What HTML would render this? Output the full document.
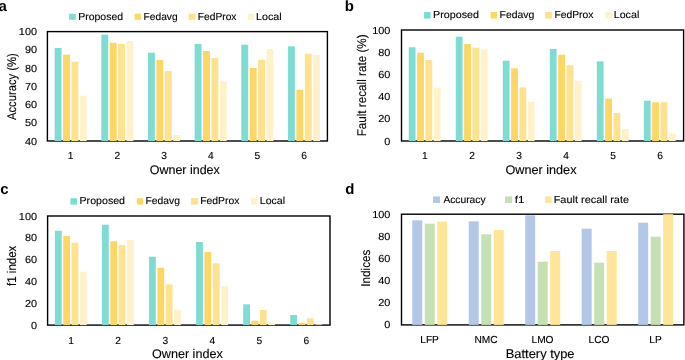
<!DOCTYPE html>
<html><head><meta charset="utf-8"><style>
html,body{margin:0;padding:0;background:#fff;}
svg{display:block;will-change:transform;}
text{font-family:"Liberation Sans",sans-serif;font-kerning:none;fill:#000;stroke:#000;stroke-width:0.12px;text-rendering:geometricPrecision;}
</style></head><body>
<svg width="685" height="360" viewBox="0 0 685 360">
<rect width="685" height="360" fill="#fff"/>
<rect x="47.4" y="31.6" width="280.00" height="109.40" fill="none" stroke="#000" stroke-width="1.4"/>
<rect x="54.65" y="48.00" width="6.90" height="93.00" fill="#7fdcd3"/>
<rect x="63.05" y="54.70" width="6.90" height="86.30" fill="#fed665"/>
<rect x="71.45" y="61.70" width="6.90" height="79.30" fill="#fee290"/>
<rect x="79.85" y="95.70" width="6.90" height="45.30" fill="#fff1c9"/>
<rect x="101.32" y="34.70" width="6.90" height="106.30" fill="#7fdcd3"/>
<rect x="109.72" y="42.70" width="6.90" height="98.30" fill="#fed665"/>
<rect x="118.12" y="44.00" width="6.90" height="97.00" fill="#fee290"/>
<rect x="126.52" y="41.00" width="6.90" height="100.00" fill="#fff1c9"/>
<rect x="147.98" y="52.70" width="6.90" height="88.30" fill="#7fdcd3"/>
<rect x="156.38" y="60.00" width="6.90" height="81.00" fill="#fed665"/>
<rect x="164.78" y="71.00" width="6.90" height="70.00" fill="#fee290"/>
<rect x="173.18" y="135.00" width="6.90" height="6.00" fill="#fff1c9"/>
<rect x="194.65" y="44.00" width="6.90" height="97.00" fill="#7fdcd3"/>
<rect x="203.05" y="51.00" width="6.90" height="90.00" fill="#fed665"/>
<rect x="211.45" y="58.00" width="6.90" height="83.00" fill="#fee290"/>
<rect x="219.85" y="81.30" width="6.90" height="59.70" fill="#fff1c9"/>
<rect x="241.32" y="44.70" width="6.90" height="96.30" fill="#7fdcd3"/>
<rect x="249.72" y="68.00" width="6.90" height="73.00" fill="#fed665"/>
<rect x="258.12" y="59.70" width="6.90" height="81.30" fill="#fee290"/>
<rect x="266.52" y="49.00" width="6.90" height="92.00" fill="#fff1c9"/>
<rect x="287.98" y="46.30" width="6.90" height="94.70" fill="#7fdcd3"/>
<rect x="296.38" y="89.70" width="6.90" height="51.30" fill="#fed665"/>
<rect x="304.78" y="53.70" width="6.90" height="87.30" fill="#fee290"/>
<rect x="313.18" y="55.00" width="6.90" height="86.00" fill="#fff1c9"/>
<text transform="translate(24.89,144.56) scale(1.0700,1)" font-size="10.2" fill="#000">40</text>
<text transform="translate(24.89,126.33) scale(1.0700,1)" font-size="10.2" fill="#000">50</text>
<text transform="translate(24.89,108.09) scale(1.0700,1)" font-size="10.2" fill="#000">60</text>
<text transform="translate(24.89,89.86) scale(1.0700,1)" font-size="10.2" fill="#000">70</text>
<text transform="translate(24.89,71.63) scale(1.0700,1)" font-size="10.2" fill="#000">80</text>
<text transform="translate(24.89,53.39) scale(1.0700,1)" font-size="10.2" fill="#000">90</text>
<text transform="translate(18.82,35.16) scale(1.0700,1)" font-size="10.2" fill="#000">100</text>
<text x="67.76" y="159.25" font-size="10.2" fill="#000">1</text>
<text x="114.56" y="159.25" font-size="10.2" fill="#000">2</text>
<text x="161.26" y="159.25" font-size="10.2" fill="#000">3</text>
<text x="207.93" y="159.25" font-size="10.2" fill="#000">4</text>
<text x="254.57" y="159.25" font-size="10.2" fill="#000">5</text>
<text x="301.20" y="159.25" font-size="10.2" fill="#000">6</text>
<rect x="401.5" y="30.0" width="282.10" height="111.00" fill="none" stroke="#000" stroke-width="1.4"/>
<rect x="408.75" y="47.30" width="6.80" height="93.70" fill="#7fdcd3"/>
<rect x="417.10" y="52.70" width="6.80" height="88.30" fill="#fed665"/>
<rect x="425.45" y="60.00" width="6.80" height="81.00" fill="#fee290"/>
<rect x="433.80" y="87.70" width="6.80" height="53.30" fill="#fff1c9"/>
<rect x="455.77" y="36.70" width="6.80" height="104.30" fill="#7fdcd3"/>
<rect x="464.12" y="44.00" width="6.80" height="97.00" fill="#fed665"/>
<rect x="472.47" y="47.70" width="6.80" height="93.30" fill="#fee290"/>
<rect x="480.82" y="49.30" width="6.80" height="91.70" fill="#fff1c9"/>
<rect x="502.78" y="60.70" width="6.80" height="80.30" fill="#7fdcd3"/>
<rect x="511.13" y="68.30" width="6.80" height="72.70" fill="#fed665"/>
<rect x="519.48" y="87.30" width="6.80" height="53.70" fill="#fee290"/>
<rect x="527.83" y="101.70" width="6.80" height="39.30" fill="#fff1c9"/>
<rect x="549.80" y="49.00" width="6.80" height="92.00" fill="#7fdcd3"/>
<rect x="558.15" y="54.70" width="6.80" height="86.30" fill="#fed665"/>
<rect x="566.50" y="65.30" width="6.80" height="75.70" fill="#fee290"/>
<rect x="574.85" y="80.70" width="6.80" height="60.30" fill="#fff1c9"/>
<rect x="596.82" y="61.30" width="6.80" height="79.70" fill="#7fdcd3"/>
<rect x="605.17" y="98.70" width="6.80" height="42.30" fill="#fed665"/>
<rect x="613.52" y="113.00" width="6.80" height="28.00" fill="#fee290"/>
<rect x="621.87" y="129.00" width="6.80" height="12.00" fill="#fff1c9"/>
<rect x="643.83" y="100.70" width="6.80" height="40.30" fill="#7fdcd3"/>
<rect x="652.18" y="102.30" width="6.80" height="38.70" fill="#fed665"/>
<rect x="660.53" y="102.30" width="6.80" height="38.70" fill="#fee290"/>
<rect x="668.88" y="133.70" width="6.80" height="7.30" fill="#fff1c9"/>
<text transform="translate(384.36,144.56) scale(1.0700,1)" font-size="10.2" fill="#000">0</text>
<text transform="translate(378.29,122.36) scale(1.0700,1)" font-size="10.2" fill="#000">20</text>
<text transform="translate(378.29,100.16) scale(1.0700,1)" font-size="10.2" fill="#000">40</text>
<text transform="translate(378.29,77.96) scale(1.0700,1)" font-size="10.2" fill="#000">60</text>
<text transform="translate(378.29,55.76) scale(1.0700,1)" font-size="10.2" fill="#000">80</text>
<text transform="translate(372.22,33.56) scale(1.0700,1)" font-size="10.2" fill="#000">100</text>
<text x="422.03" y="159.00" font-size="10.2" fill="#000">1</text>
<text x="469.19" y="159.00" font-size="10.2" fill="#000">2</text>
<text x="516.24" y="159.00" font-size="10.2" fill="#000">3</text>
<text x="563.25" y="159.00" font-size="10.2" fill="#000">4</text>
<text x="610.25" y="159.00" font-size="10.2" fill="#000">5</text>
<text x="657.22" y="159.00" font-size="10.2" fill="#000">6</text>
<rect x="47.6" y="216.0" width="282.40" height="109.10" fill="none" stroke="#000" stroke-width="1.4"/>
<rect x="54.90" y="230.70" width="6.80" height="94.40" fill="#7fdcd3"/>
<rect x="63.25" y="236.00" width="6.80" height="89.10" fill="#fed665"/>
<rect x="71.60" y="242.70" width="6.80" height="82.40" fill="#fee290"/>
<rect x="79.95" y="271.70" width="6.80" height="53.40" fill="#fff1c9"/>
<rect x="101.97" y="224.70" width="6.80" height="100.40" fill="#7fdcd3"/>
<rect x="110.32" y="241.30" width="6.80" height="83.80" fill="#fed665"/>
<rect x="118.67" y="245.00" width="6.80" height="80.10" fill="#fee290"/>
<rect x="127.02" y="240.00" width="6.80" height="85.10" fill="#fff1c9"/>
<rect x="149.03" y="256.70" width="6.80" height="68.40" fill="#7fdcd3"/>
<rect x="157.38" y="267.70" width="6.80" height="57.40" fill="#fed665"/>
<rect x="165.73" y="284.30" width="6.80" height="40.80" fill="#fee290"/>
<rect x="174.08" y="309.70" width="6.80" height="15.40" fill="#fff1c9"/>
<rect x="196.10" y="242.00" width="6.80" height="83.10" fill="#7fdcd3"/>
<rect x="204.45" y="252.00" width="6.80" height="73.10" fill="#fed665"/>
<rect x="212.80" y="263.30" width="6.80" height="61.80" fill="#fee290"/>
<rect x="221.15" y="286.30" width="6.80" height="38.80" fill="#fff1c9"/>
<rect x="243.17" y="304.30" width="6.80" height="20.80" fill="#7fdcd3"/>
<rect x="251.52" y="320.70" width="6.80" height="4.40" fill="#fed665"/>
<rect x="259.87" y="310.00" width="6.80" height="15.10" fill="#fee290"/>
<rect x="268.22" y="323.00" width="6.80" height="2.10" fill="#fff1c9"/>
<rect x="290.23" y="315.00" width="6.80" height="10.10" fill="#7fdcd3"/>
<rect x="298.58" y="322.70" width="6.80" height="2.40" fill="#fed665"/>
<rect x="306.93" y="318.30" width="6.80" height="6.80" fill="#fee290"/>
<rect x="315.28" y="324.30" width="6.80" height="0.80" fill="#fff1c9"/>
<text transform="translate(30.96,328.66) scale(1.0700,1)" font-size="10.2" fill="#000">0</text>
<text transform="translate(24.89,306.84) scale(1.0700,1)" font-size="10.2" fill="#000">20</text>
<text transform="translate(24.89,285.02) scale(1.0700,1)" font-size="10.2" fill="#000">40</text>
<text transform="translate(24.89,263.20) scale(1.0700,1)" font-size="10.2" fill="#000">60</text>
<text transform="translate(24.89,241.38) scale(1.0700,1)" font-size="10.2" fill="#000">80</text>
<text transform="translate(18.82,219.56) scale(1.0700,1)" font-size="10.2" fill="#000">100</text>
<text x="68.16" y="343.60" font-size="10.2" fill="#000">1</text>
<text x="115.36" y="343.60" font-size="10.2" fill="#000">2</text>
<text x="162.46" y="343.60" font-size="10.2" fill="#000">3</text>
<text x="209.53" y="343.60" font-size="10.2" fill="#000">4</text>
<text x="256.57" y="343.60" font-size="10.2" fill="#000">5</text>
<text x="303.60" y="343.60" font-size="10.2" fill="#000">6</text>
<rect x="401.5" y="214.2" width="282.40" height="110.70" fill="none" stroke="#000" stroke-width="1.4"/>
<rect x="412.25" y="220.30" width="10.00" height="104.60" fill="#b4c7e7"/>
<rect x="424.75" y="223.70" width="10.00" height="101.20" fill="#c5e0b4"/>
<rect x="437.25" y="221.70" width="10.00" height="103.20" fill="#ffe597"/>
<rect x="468.73" y="221.30" width="10.00" height="103.60" fill="#b4c7e7"/>
<rect x="481.23" y="234.30" width="10.00" height="90.60" fill="#c5e0b4"/>
<rect x="493.73" y="230.00" width="10.00" height="94.90" fill="#ffe597"/>
<rect x="525.21" y="215.30" width="10.00" height="109.60" fill="#b4c7e7"/>
<rect x="537.71" y="261.70" width="10.00" height="63.20" fill="#c5e0b4"/>
<rect x="550.21" y="251.00" width="10.00" height="73.90" fill="#ffe597"/>
<rect x="581.69" y="228.70" width="10.00" height="96.20" fill="#b4c7e7"/>
<rect x="594.19" y="262.70" width="10.00" height="62.20" fill="#c5e0b4"/>
<rect x="606.69" y="251.00" width="10.00" height="73.90" fill="#ffe597"/>
<rect x="638.17" y="222.70" width="10.00" height="102.20" fill="#b4c7e7"/>
<rect x="650.67" y="236.70" width="10.00" height="88.20" fill="#c5e0b4"/>
<rect x="663.17" y="214.20" width="10.00" height="110.70" fill="#ffe597"/>
<text transform="translate(384.36,328.46) scale(1.0700,1)" font-size="10.2" fill="#000">0</text>
<text transform="translate(378.29,306.32) scale(1.0700,1)" font-size="10.2" fill="#000">20</text>
<text transform="translate(378.29,284.18) scale(1.0700,1)" font-size="10.2" fill="#000">40</text>
<text transform="translate(378.29,262.04) scale(1.0700,1)" font-size="10.2" fill="#000">60</text>
<text transform="translate(378.29,239.90) scale(1.0700,1)" font-size="10.2" fill="#000">80</text>
<text transform="translate(372.22,217.76) scale(1.0700,1)" font-size="10.2" fill="#000">100</text>
<text x="420.24" y="343.00" font-size="10.2" fill="#000">LFP</text>
<text x="474.38" y="343.00" font-size="10.2" fill="#000">NMC</text>
<text x="531.47" y="343.00" font-size="10.2" fill="#000">LMO</text>
<text x="588.52" y="343.00" font-size="10.2" fill="#000">LCO</text>
<text x="649.27" y="343.00" font-size="10.2" fill="#000">LP</text>
<text x="-1.54" y="10.55" font-size="15" font-weight="bold" style="stroke:none" fill="#000">a</text>
<text x="344.81" y="10.55" font-size="15" font-weight="bold" style="stroke:none" fill="#000">b</text>
<text x="0.21" y="193.90" font-size="15" font-weight="bold" style="stroke:none" fill="#000">c</text>
<text x="345.18" y="193.90" font-size="15" font-weight="bold" style="stroke:none" fill="#000">d</text>
<rect x="69.10" y="13.70" width="6.70" height="6.10" fill="#7fdcd3"/>
<text transform="translate(78.14,19.80) scale(1.0315,1)" font-size="10.2" fill="#000">Proposed</text>
<rect x="134.60" y="13.70" width="6.40" height="6.10" fill="#fed665"/>
<text transform="translate(143.56,19.80) scale(1.0022,1)" font-size="10.2" fill="#000">Fedavg</text>
<rect x="188.60" y="13.70" width="6.80" height="6.10" fill="#fee290"/>
<text transform="translate(197.76,19.80) scale(1.0053,1)" font-size="10.2" fill="#000">FedProx</text>
<rect x="247.60" y="13.70" width="6.40" height="6.10" fill="#fff1c9"/>
<text transform="translate(256.12,19.80) scale(1.0496,1)" font-size="10.2" fill="#000">Local</text>
<rect x="424.00" y="12.00" width="6.60" height="6.60" fill="#7fdcd3"/>
<text transform="translate(433.12,18.40) scale(1.0529,1)" font-size="10.2" fill="#000">Proposed</text>
<rect x="490.60" y="12.00" width="6.40" height="6.60" fill="#fed665"/>
<text transform="translate(499.55,18.40) scale(1.0207,1)" font-size="10.2" fill="#000">Fedavg</text>
<rect x="545.10" y="12.00" width="6.90" height="6.60" fill="#fee290"/>
<text transform="translate(554.45,18.40) scale(1.0132,1)" font-size="10.2" fill="#000">FedProx</text>
<rect x="605.40" y="12.00" width="6.20" height="6.60" fill="#fff1c9"/>
<text transform="translate(613.72,18.40) scale(1.0496,1)" font-size="10.2" fill="#000">Local</text>
<rect x="70.40" y="198.20" width="6.60" height="6.40" fill="#7fdcd3"/>
<text transform="translate(79.53,204.40) scale(1.0434,1)" font-size="10.2" fill="#000">Proposed</text>
<rect x="137.00" y="198.20" width="6.00" height="6.40" fill="#fed665"/>
<text transform="translate(145.55,204.40) scale(1.0145,1)" font-size="10.2" fill="#000">Fedavg</text>
<rect x="191.00" y="198.20" width="7.10" height="6.40" fill="#fee290"/>
<text transform="translate(200.15,204.40) scale(1.0185,1)" font-size="10.2" fill="#000">FedProx</text>
<rect x="251.00" y="198.20" width="6.40" height="6.40" fill="#fff1c9"/>
<text transform="translate(259.73,204.40) scale(1.0409,1)" font-size="10.2" fill="#000">Local</text>
<rect x="433.00" y="196.40" width="7.00" height="6.60" fill="#b4c7e7"/>
<text transform="translate(443.38,203.00) scale(1.0070,1)" font-size="10.2" fill="#000">Accuracy</text>
<rect x="505.00" y="196.40" width="7.00" height="6.60" fill="#c5e0b4"/>
<text transform="translate(514.83,203.00) scale(1.1444,1)" font-size="10.2" fill="#000">f1</text>
<rect x="545.00" y="196.40" width="6.60" height="6.60" fill="#ffe597"/>
<text transform="translate(553.70,203.00) scale(1.0724,1)" font-size="10.2" fill="#000">Fault recall rate</text>
<text transform="translate(149.71,173.60) scale(0.9914,1)" font-size="12.6" fill="#000">Owner index</text>
<text transform="translate(505.40,173.60) scale(1.0057,1)" font-size="12.6" fill="#000">Owner index</text>
<text x="152.00" y="357.60" font-size="12.6" fill="#000">Owner index</text>
<text transform="translate(505.74,357.80) scale(1.0238,1)" font-size="12.6" fill="#000">Battery type</text>
<text transform="translate(15.80,120.02) rotate(-90) scale(0.8920,1)" font-size="12.6">Accuracy (%)</text>
<text transform="translate(365.80,136.36) rotate(-90) scale(0.9277,1)" font-size="12.6">Fault recall rate (%)</text>
<text transform="translate(16.20,285.96) rotate(-90) scale(0.9129,1)" font-size="12.6">f1 index</text>
<text transform="translate(370.10,286.68) rotate(-90) scale(0.9294,1)" font-size="12.6">Indices</text>
</svg>
</body></html>
